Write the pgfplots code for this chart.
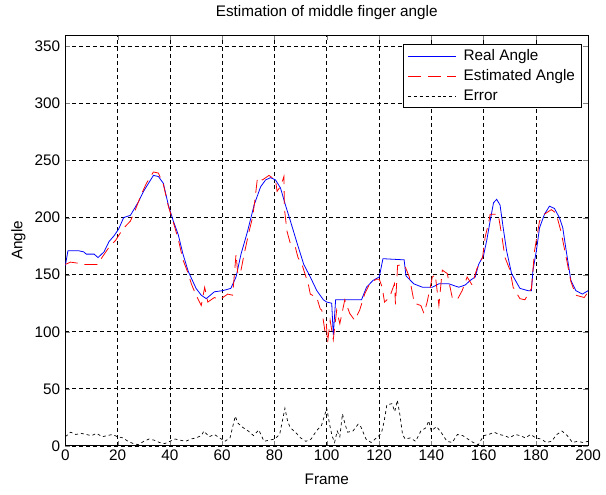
\documentclass[border=0pt]{standalone}
\usepackage{fontspec}
\setmainfont{Liberation Sans}
\usepackage{pgfplots}
\pgfplotsset{compat=1.18}
\begin{document}
\fontsize{15.5}{18}\selectfont
\begin{tikzpicture}
\begin{axis}[
    scale only axis,
    width=528bp, height=415bp,
    xmin=0, xmax=200,
    ymin=0, ymax=360,
    xtick={0,20,...,200},
    ytick={0,50,...,350},
    tick align=inside,
    major tick length=5bp,
    xmajorgrids=true,
    ymajorgrids=true,
    grid style={black, line width=0.7bp, dash pattern=on 4bp off 3bp},
    axis line style={black, line width=0.8bp},
    /pgf/number format/assume math mode=true,
    tick label style={font=\fontsize{15.5}{18}\selectfont},
    xticklabel style={yshift=1bp},
    title={Estimation of middle finger angle},
    title style={at={(axis description cs:0.5,1.041)}, anchor=center, font=\fontsize{15.5}{18}\selectfont},
    xlabel={Frame},
    xlabel style={at={(axis description cs:0.5,-0.082)}, anchor=center},
    ylabel={Angle},
    ylabel style={at={(axis description cs:-0.09,0.5)}, anchor=center},
    legend style={at={(rel axis cs:0.987,0.978)}, anchor=north east, draw=black, fill=white,
        line width=0.8bp, font=\fontsize{15.5}{18}\selectfont, row sep=3bp, inner xsep=4bp, inner ysep=3bp},
    legend cell align=left,
    legend image code/.code={\draw[#1] (0bp,0bp) -- (49bp,0bp);},
]
\addplot[blue, line width=0.8bp] coordinates {
(0,158) (1,171) (5,171) (7,170) (8,168) (11,168) (12.5,165) (14.8,170) (16.7,179) (18.6,184)
(20.4,190) (22.3,200) (24.9,202) (28,214) (29.9,223) (31.8,230) (33.7,237) (35.6,236) (37.5,230)
(39.4,211) (41.3,197) (43.2,185) (45,168) (47,153) (50,138) (52,132) (53.9,129) (57,135) (60.2,136)
(63.3,138) (65.3,148) (67.2,168) (69.7,188) (72.2,211) (74.7,227) (76.6,233) (78.5,235) (80.4,233)
(82.3,226) (84.2,211) (86.1,197) (88.6,178) (91.2,159) (93.7,148) (96.2,136) (98.7,128) (100,126)
(101.9,125) (102.5,97) (103.4,128) (113.3,128) (115.2,139) (117.7,145) (120.1,148) (121.5,164)
(129.6,163) (130.3,149) (133.3,142) (136.6,139) (140.4,139) (142.9,142) (146.7,142) (150.5,139)
(153,141) (154.9,145) (156.8,148) (158.1,159) (160,167) (161.2,180) (162.5,197) (163.8,213) (165,216)
(166.3,211) (167.5,191) (168.8,171) (170.7,151) (173.9,138) (177,136) (178.3,136) (178.9,154)
(180.2,171) (181.4,191) (183.3,203) (185.2,210) (187.1,208) (189,200) (190.3,191) (191.6,171)
(193.4,145) (195.3,136) (197.8,133) (200,136)
};
\addlegendentry{\hspace{5bp}Real Angle}
\addplot[red, line width=0.8bp, dash pattern=on 13bp off 7bp] coordinates {
(0,159) (2,161) (5,160) (7,159) (10,159) (12.2,159) (14,165) (16.7,174) (19.2,180) (22,190)
(24.9,197) (26.8,207) (29,220) (31,230) (33.7,240) (35.6,239) (37.5,229) (39.4,210) (41.3,196)
(43.2,181) (45,163) (47,151) (48.2,142) (50,132) (52,123) (53.3,139) (54.5,126) (57,130) (59,128)
(62.1,133) (64,132) (65.3,168) (66,150) (67.2,154) (68.4,168) (70.3,188) (71.6,200) (72.5,215)
(73.5,235) (75.4,233) (77.9,237) (80.4,233) (81,223) (82.5,228) (83.6,236) (83.8,208) (84.8,188)
(86.1,177) (88,174) (89,165) (90.5,159) (91.5,152) (93,141) (93.7,133) (96.2,130) (97.5,120)
(98.1,119) (99.4,99) (99.9,105) (100.3,90) (101.3,110) (102.5,93) (103.8,119) (105,107) (106.9,128)
(108.8,116) (110.7,110) (112.6,119) (114.5,133) (116.4,142) (118.9,146) (120.1,146) (121.2,139)
(122.1,126) (124,130) (125.9,142) (126.3,124) (127.1,158) (129,159) (130,157) (131.6,148) (133.5,125)
(136,123) (137.2,116) (138.4,126) (140.4,148) (141.5,150) (142.9,123) (144.2,154) (146.1,151)
(148,130) (149.9,128) (151.8,136) (153.7,148) (155.6,141) (157.4,155) (159.6,165) (160.6,183)
(162,196) (162.5,203) (165.6,203) (166.9,185) (168.2,165) (170.1,154) (171.3,139) (173.9,129)
(175.8,128) (178.3,138) (179.5,171) (181.4,197) (183.3,203) (185.9,207) (187.7,204) (189.6,188)
(191.6,165) (193.4,144) (195.3,132) (198.5,130) (200,135)
};
\addlegendentry{\hspace{5bp}Estimated Angle}
\addplot[black, line width=0.7bp, dash pattern=on 3bp off 3bp] coordinates {
(0,8) (1,10) (2,12) (4,10) (6,11) (8,10) (10,9) (12,11) (14,8) (16,9) (18,10) (20,8) (22,7) (24,4)
(26,2) (28,1) (30,4) (32,6) (34,5) (36,3) (38,2) (40,4) (42,6) (44,5) (46,4) (48,6) (50,7) (52,9)
(53,13) (55,8) (57,10) (59,7) (61,4) (63,7) (65,26) (66,20) (68,16) (70,13) (72,9) (74,14) (76,4)
(78,5) (80,6) (82,10) (84,33) (85,22) (86,16) (88,12) (90,7) (92,4) (94,6) (96,13) (98,18) (100,33)
(101,20) (102,9) (103,3) (104,13) (105,8) (106,28) (107,19) (108,12) (110,13) (112,19) (113,17)
(115,6) (117,3) (119,7) (120,9) (121,12) (122,22) (123,36) (125,37) (126,30) (127,40) (128,27)
(129,10) (130,6) (132,7) (134,4) (136,13) (138,16) (139,22) (140,13) (142,17) (144,11) (146,4)
(148,3) (150,10) (152,9) (154,6) (156,3) (158,1) (160,9) (162,10) (164,12) (166,10) (168,9) (170,7)
(172,10) (174,9) (176,7) (178,10) (180,7) (182,6) (184,3) (186,4) (188,10) (190,13) (192,9) (194,3)
(196,4) (198,3) (200,4)
};
\addlegendentry{\hspace{5bp}Error}
\end{axis}
\path (current axis.south west) +(-66bp,-49bp) (current axis.north east) +(12bp,29bp);
\end{tikzpicture}
\end{document}
